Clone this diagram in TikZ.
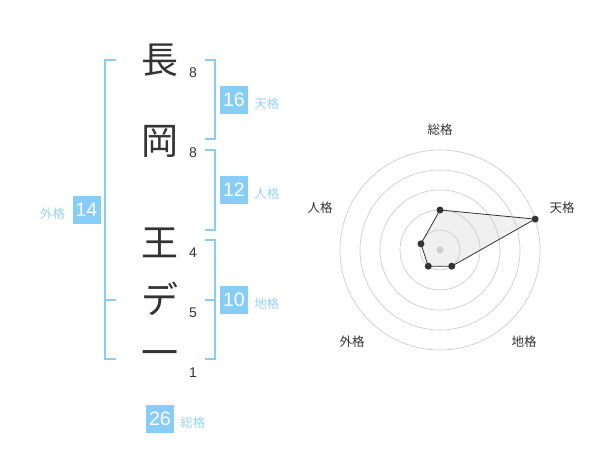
\documentclass[tikz,border=0pt]{standalone}
\usepackage{xcolor}
\usepackage{fontspec}
\setmainfont{Liberation Sans}
\newfontfamily\jp{Noto Sans CJK JP}
\usepackage{tikz}
\usetikzlibrary{positioning,calc}
\definecolor{kakublue}{HTML}{88CCF8}
\definecolor{kakutext}{HTML}{96D2F8}
\definecolor{ink}{HTML}{333333}
\definecolor{ringgray}{HTML}{CCCCCC}

\begin{document}
\begin{tikzpicture}[x=1pt,y=-1pt,
	bracket/.style = {draw=kakublue,line width=2pt},
	kanji/.style = {inner sep=0pt,text=ink,font=\jp\fontsize{37}{37}\selectfont}]
				\tikzset{strokes/.style={inner sep=0pt,text=ink,font=\fontsize{14}{14}\selectfont}}
				\tikzset{kakubox/.style={fill=kakublue,text=white,minimum size=28pt,inner sep=0pt,font=\fontsize{19.5}{19.5}\selectfont}}
				\tikzset{kakulabel/.style={inner sep=0pt,text=kakutext,yshift=-3.5pt,font=\jp\fontsize{12.5}{12.5}\selectfont}}
				\tikzset{axislabel/.style={inner sep=0pt,text=ink,font=\jp\fontsize{12.5}{12.5}\selectfont}}
				\tikzset{ring/.style={draw=ringgray,line width=0.7pt}}

				\useasboundingbox (0,0) rectangle (600,470);

				\node[kanji] (ch1) at (160,60) {長};
				\node[kanji] (ch2) at (160,141) {岡};
				\node[kanji] (ch3) at (160,243) {王};
				\node[kanji] (ch4) at (160,299) {デ};
				\node[kanji] (ch5) at (160,359) {一};

				\node[strokes] (n1) at (193,73) {8};
				\node[strokes] (n2) at (193,153) {8};
				\node[strokes] (n3) at (193,253) {4};
				\node[strokes] (n4) at (193,313) {5};
				\node[strokes] (n5) at (193,373) {1};

				\draw[bracket] (116,60) -- (105,60) -- (105,359) -- (116,359);
				\draw[bracket] (105,300) -- (116,300);
				\draw[bracket] (205,60) -- (215,60) -- (215,139) -- (205,139);
				\draw[bracket] (205,150) -- (215,150) -- (215,230) -- (205,230);
				\draw[bracket] (205,240) -- (215,240) -- (215,359) -- (205,359);
				\draw[bracket] (215,300) -- (205,300);

				\node[kakubox] (ten) at (234,100) {16};
				\node[kakulabel, right=6pt of ten] (ten-l) {天格};
				\node[kakubox] (jin) at (234,190) {12};
				\node[kakulabel, right=6pt of jin] (jin-l) {人格};
				\node[kakubox] (chi) at (234,300) {10};
				\node[kakulabel, right=6pt of chi] (chi-l) {地格};
				\node[kakubox] (gai) at (86.5,210) {14};
				\node[kakulabel, left=7pt of gai] (gai-l) {外格};
				\node[kakubox] (sou) at (160,419) {26};
				\node[kakulabel, right=6pt of sou] (sou-l) {総格};

				\coordinate (rc) at (440,250);
				\coordinate (sou-p) at ([shift={(90:40pt)}]rc);
				\coordinate (ten-p) at ([shift={(18:100pt)}]rc);
				\coordinate (chi-p) at ([shift={(-54:20pt)}]rc);
				\coordinate (gai-p) at ([shift={(-126:20pt)}]rc);
				\coordinate (jin-p) at ([shift={(162:20pt)}]rc);

				\fill[gray!12] (sou-p) -- (ten-p) -- (chi-p) -- (gai-p) -- (jin-p) -- cycle;
				\draw[ring] (rc) circle (20pt) (rc) circle (40pt) (rc) circle (60pt) (rc) circle (80pt) (rc) circle (100pt);
				\fill[ringgray] (rc) circle (3.5pt);
				\draw[ink, line width=0.8pt] (sou-p) -- (ten-p) -- (chi-p) -- (gai-p) -- (jin-p) -- cycle;
				\fill[ink] (sou-p) circle (3.5pt) (ten-p) circle (3.5pt) (chi-p) circle (3.5pt) (gai-p) circle (3.5pt) (jin-p) circle (3.5pt);

				\node[axislabel] (sou-a) at (440,130) {総格};
				\node[axislabel] (ten-a) at (562,208) {天格};
				\node[axislabel] (chi-a) at (524,342) {地格};
				\node[axislabel] (gai-a) at (352,342) {外格};
				\node[axislabel] (jin-a) at (320,208) {人格};

			\end{tikzpicture}
\end{document}
